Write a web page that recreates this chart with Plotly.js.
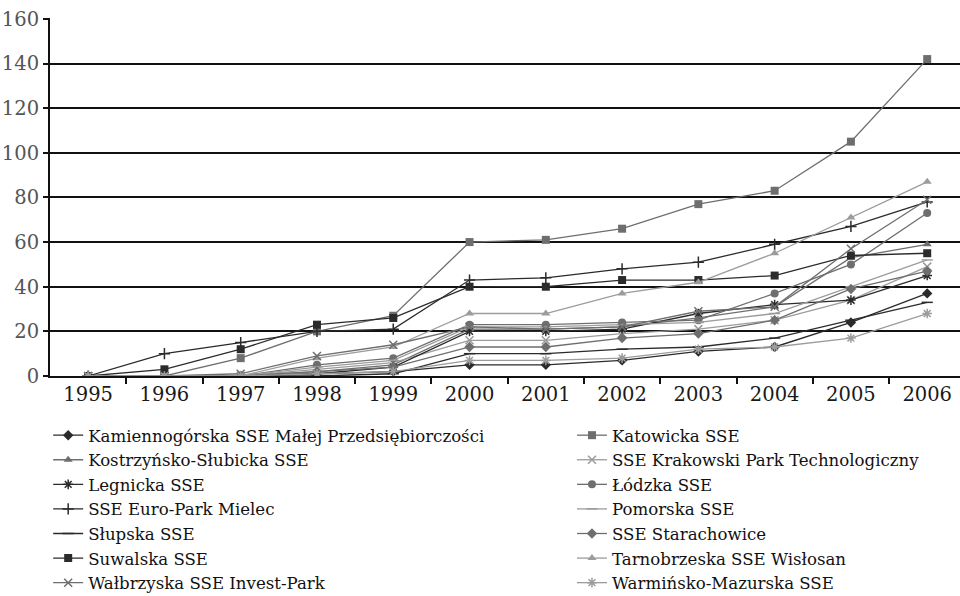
<!DOCTYPE html>
<html>
<head>
<meta charset="utf-8">
<script src="https://cdn.plot.ly/plotly-3.0.1.min.js"></script>
<style>
html,body{margin:0;padding:0;background:#fff;}
#chart{width:960px;height:596px;}
</style>
</head>
<body>
<div id="chart"></div>
<script>
const years = [1995,1996,1997,1998,1999,2000,2001,2002,2003,2004,2005,2006];
const names = [
  "Kamiennogórska SSE Małej Przedsiębiorczości",
  "Katowicka SSE",
  "Kostrzyńsko-Słubicka SSE",
  "SSE Krakowski Park Technologiczny",
  "Legnicka SSE",
  "Łódzka SSE",
  "SSE Euro-Park Mielec",
  "Pomorska SSE",
  "Słupska SSE",
  "SSE Starachowice",
  "Suwalska SSE",
  "Tarnobrzeska SSE Wisłosan",
  "Wałbrzyska SSE Invest-Park",
  "Warmińsko-Mazurska SSE"
];
const kamiennogorska = [0,0,0,1,2,5,5,7,11,13,24,37];
const katowicka      = [0,0,8,20,27,60,61,66,77,83,105,142];
const kostrzynsko    = [0,0,0,2,5,21,21,22,26,31,53,59];
const krakowski      = [0,0,0,3,6,16,16,19,21,25,34,49];
const legnicka       = [0,0,0,1,4,20,20,21,28,32,34,45];
const lodzka         = [0,0,0,5,8,23,23,24,25,37,50,73];
const mielec         = [0,10,15,20,21,43,44,48,51,59,67,78];
const pomorska       = [0,0,0,4,7,22,22,23,24,28,40,52];
const slupska        = [0,0,0,0,1,10,10,12,13,17,25,33];
const starachowice   = [0,0,0,2,4,13,13,17,19,25,39,47];
const suwalska       = [0,3,12,23,26,40,40,43,43,45,54,55];
const tarnobrzeska   = [0,0,0,8,13,28,28,37,42,55,71,87];
const walbrzyska     = [0,0,1,9,14,22,21,22,29,31,57,79];
const warminsko      = [0,0,0,1,2,7,7,8,12,13,17,28];
const seriesValues = [kamiennogorska,katowicka,kostrzynsko,krakowski,legnicka,lodzka,mielec,pomorska,slupska,starachowice,suwalska,tarnobrzeska,walbrzyska,warminsko];
const yTicks = [0,20,40,60,80,100,120,140,160];
const boundaryTicks = [1995.5,1996.5,1997.5,1998.5,1999.5,2000.5,2001.5,2002.5,2003.5,2004.5,2005.5];

const DARK = "#2b2b2b", MID = "#6e6e6e", LIGHT = "#9c9c9c";
const styles = [
  {c: DARK,  s: "diamond"},
  {c: MID,   s: "square"},
  {c: MID,   s: "triangle-up"},
  {c: LIGHT, s: "x-thin", thin: true},
  {c: DARK,  s: "asterisk", thin: true},
  {c: MID,   s: "circle"},
  {c: DARK,  s: "cross-thin", thin: true},
  {c: LIGHT, s: "line-ew", thin: true},
  {c: DARK,  s: "line-ew", thin: true},
  {c: MID,   s: "diamond"},
  {c: DARK,  s: "square"},
  {c: LIGHT, s: "triangle-up"},
  {c: MID,   s: "x-thin", thin: true},
  {c: LIGHT, s: "asterisk", thin: true}
];

const FONT = "DejaVu Serif, Liberation Serif, serif";
const traces = names.map((n, i) => ({
  type: "scatter", mode: "lines+markers", name: n,
  legend: i % 2 === 0 ? "legend" : "legend2",
  x: years, y: seriesValues[i],
  line: {color: styles[i].c, width: 1.3},
  marker: {symbol: styles[i].s, size: 8, color: styles[i].c,
           line: {color: styles[i].c, width: styles[i].thin ? 1.5 : 0}}
}));

const legendCommon = {orientation: "v", yanchor: "top", xanchor: "left", tracegroupgap: 0,
  font: {size: 16.6, family: FONT, color: "#111"}, bgcolor: "rgba(0,0,0,0)", borderwidth: 0};

const layout = {
  width: 960, height: 596,
  margin: {l: 50, r: 0, t: 18, b: 220, autoexpand: false},
  paper_bgcolor: "#fff", plot_bgcolor: "#fff",
  font: {family: FONT, color: "#111"},
  xaxis: {range: [1994.5, 2006.43], tickvals: years, ticks: "", showgrid: false,
          zeroline: false, showline: true, linecolor: "#111", linewidth: 2,
          tickfont: {size: 19.5, color: "#1a1a1a", family: FONT},
          minor: {tickmode: "array", tickvals: boundaryTicks, ticks: "outside", ticklen: 6,
                  tickwidth: 1.5, tickcolor: "#111", showgrid: false}},
  yaxis: {range: [0, 160.4], tickvals: yTicks, ticks: "outside", ticklen: 5, tickcolor: "#111", tickwidth: 1.5,
          showline: true, linecolor: "#111", linewidth: 2,
          gridcolor: "#111", gridwidth: 2, zeroline: true, zerolinecolor: "#111", zerolinewidth: 2,
          tickfont: {size: 19.5, color: "#555", family: FONT}},
  showlegend: true,
  legend: Object.assign({x: -0.002, y: -0.117}, legendCommon),
  legend2: Object.assign({x: 0.5736, y: -0.117}, legendCommon)
};
Plotly.newPlot("chart", traces, layout, {displayModeBar: false});
</script>
</body>
</html>
